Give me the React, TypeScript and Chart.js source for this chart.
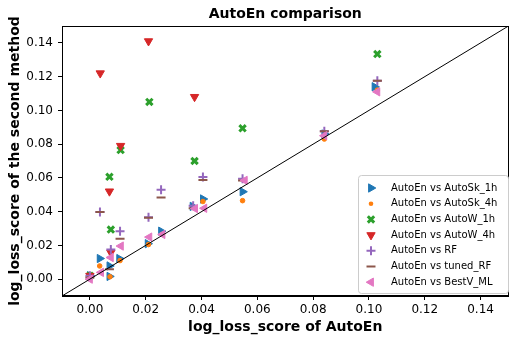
import React, { useEffect, useRef } from "react";
import { Chart, registerables } from "chart.js";

Chart.register(...registerables);

const FONT = "'DejaVu Sans', sans-serif";

const chartTitle = "AutoEn comparison";
const xAxisTitle = "log_loss_score of AutoEn";
const yAxisTitle = "log_loss_score of the second method";

const xTicks = [0.0, 0.02, 0.04, 0.06, 0.08, 0.1, 0.12, 0.14];
const yTicks = [0.0, 0.02, 0.04, 0.06, 0.08, 0.1, 0.12, 0.14];
const axisRange = [-0.01, 0.15];

const seriesLabels = [
  "AutoEn vs AutoSk_1h",
  "AutoEn vs AutoSk_4h",
  "AutoEn vs AutoW_1h",
  "AutoEn vs AutoW_4h",
  "AutoEn vs RF",
  "AutoEn vs tuned_RF",
  "AutoEn vs BestV_ML",
];
const seriesColors = ["#1f77b4", "#ff7f0e", "#2ca02c", "#d62728", "#9467bd", "#8c564b", "#e377c2"];

const autoSk1hX = [0.0, 0.0035, 0.007, 0.007, 0.0105, 0.0207, 0.0255, 0.0368, 0.0405, 0.0547, 0.084, 0.102];
const autoSk1hY = [0.002, 0.0122, 0.0078, 0.0016, 0.0122, 0.021, 0.0284, 0.0431, 0.0475, 0.0518, 0.086, 0.114];

const autoSk4hX = [0.0, 0.0035, 0.0072, 0.0108, 0.021, 0.026, 0.0405, 0.0547, 0.084, 0.103];
const autoSk4hY = [0.001, 0.0078, 0.0014, 0.011, 0.0205, 0.0265, 0.046, 0.0465, 0.083, 0.112];

const autoW1hX = [0.0, 0.007, 0.0075, 0.011, 0.0213, 0.0375, 0.0547, 0.103];
const autoW1hY = [0.002, 0.0606, 0.0294, 0.0765, 0.105, 0.07, 0.0894, 0.1334];

const autoW4hX = [0.0, 0.0037, 0.007, 0.0075, 0.011, 0.021, 0.0375];
const autoW4hY = [0.002, 0.122, 0.052, 0.0157, 0.079, 0.141, 0.108];

const rfX = [0.0, 0.0036, 0.0075, 0.0108, 0.021, 0.0255, 0.037, 0.0405, 0.0547, 0.084, 0.103];
const rfY = [0.002, 0.0398, 0.0176, 0.0284, 0.0367, 0.053, 0.0435, 0.0605, 0.0595, 0.0876, 0.1176];

const tunedRfX = [0.0, 0.0036, 0.007, 0.0108, 0.021, 0.0255, 0.037, 0.0405, 0.0547, 0.084, 0.103];
const tunedRfY = [0.001, 0.0398, 0.0058, 0.024, 0.0363, 0.0484, 0.042, 0.0588, 0.0585, 0.0876, 0.1176];

const bestVX = [0.0, 0.004, 0.0075, 0.0111, 0.0213, 0.026, 0.0377, 0.041, 0.0555, 0.084, 0.103];
const bestVY = [0.0, 0.004, 0.0128, 0.0196, 0.0249, 0.0265, 0.0418, 0.042, 0.0585, 0.085, 0.111];

const seriesX = [autoSk1hX, autoSk4hX, autoW1hX, autoW4hX, rfX, tunedRfX, bestVX];
const seriesY = [autoSk1hY, autoSk4hY, autoW1hY, autoW4hY, rfY, tunedRfY, bestVY];

type Marker = { style: string; rotation: number; radius: number; width: number };
const markers: Marker[] = [
  { style: "triangle", rotation: 90, radius: 4.8, width: 1 },
  { style: "circle", rotation: 0, radius: 2.3, width: 1 },
  { style: "crossRot", rotation: 0, radius: 4.5, width: 3 },
  { style: "triangle", rotation: 180, radius: 4.8, width: 1 },
  { style: "cross", rotation: 0, radius: 4.5, width: 2 },
  { style: "line", rotation: 0, radius: 4.5, width: 2 },
  { style: "triangle", rotation: 270, radius: 4.8, width: 1 },
];

function drawMarker(ctx: CanvasRenderingContext2D, m: Marker, x: number, y: number, color: string) {
  ctx.save();
  ctx.fillStyle = color;
  ctx.strokeStyle = color;
  ctx.lineWidth = m.width;
  const r = m.radius;
  ctx.beginPath();
  if (m.style === "triangle") {
    let rad = (m.rotation * Math.PI) / 180;
    ctx.moveTo(x + Math.sin(rad) * r, y - Math.cos(rad) * r);
    rad += (2 * Math.PI) / 3;
    ctx.lineTo(x + Math.sin(rad) * r, y - Math.cos(rad) * r);
    rad += (2 * Math.PI) / 3;
    ctx.lineTo(x + Math.sin(rad) * r, y - Math.cos(rad) * r);
    ctx.closePath();
    ctx.fill();
    ctx.stroke();
  } else if (m.style === "circle") {
    ctx.arc(x, y, r, 0, Math.PI * 2);
    ctx.fill();
  } else if (m.style === "crossRot") {
    const d = Math.cos(Math.PI / 4) * r;
    ctx.moveTo(x - d, y - d);
    ctx.lineTo(x + d, y + d);
    ctx.moveTo(x - d, y + d);
    ctx.lineTo(x + d, y - d);
    ctx.stroke();
  } else if (m.style === "cross") {
    ctx.moveTo(x - r, y);
    ctx.lineTo(x + r, y);
    ctx.moveTo(x, y - r);
    ctx.lineTo(x, y + r);
    ctx.stroke();
  } else if (m.style === "line") {
    ctx.moveTo(x - r, y);
    ctx.lineTo(x + r, y);
    ctx.stroke();
  }
  ctx.restore();
}

const decorPlugin = {
  id: "decor",
  afterDraw(chart: any) {
    const ctx: CanvasRenderingContext2D = chart.ctx;
    const a = chart.chartArea;
    ctx.save();
    // frame
    ctx.strokeStyle = "#000";
    ctx.lineWidth = 1;
    ctx.strokeRect(Math.round(a.left) + 0.5, Math.round(a.top) + 0.5, Math.round(a.right - a.left) - 1, Math.round(a.bottom - a.top) - 1);
    // title
    ctx.fillStyle = "#000";
    ctx.textAlign = "center";
    ctx.textBaseline = "middle";
    ctx.font = `bold 14px ${FONT}`;
    const cx = (a.left + a.right) / 2;
    ctx.fillText(chartTitle, cx, 14);
    ctx.fillText(xAxisTitle, cx, 327);
    ctx.save();
    ctx.translate(15, (a.top + a.bottom) / 2);
    ctx.rotate(-Math.PI / 2);
    ctx.fillText(yAxisTitle, 0, 0);
    ctx.restore();
    // legend
    const lx = 358, ly = 175, lw = 150, lh = 118;
    ctx.fillStyle = "rgba(255,255,255,0.85)";
    ctx.strokeStyle = "#cccccc";
    ctx.lineWidth = 1;
    ctx.beginPath();
    const rr = 3;
    ctx.moveTo(lx + 0.5 + rr, ly + 0.5);
    ctx.arcTo(lx + 0.5 + lw, ly + 0.5, lx + 0.5 + lw, ly + 0.5 + lh, rr);
    ctx.arcTo(lx + 0.5 + lw, ly + 0.5 + lh, lx + 0.5, ly + 0.5 + lh, rr);
    ctx.arcTo(lx + 0.5, ly + 0.5 + lh, lx + 0.5, ly + 0.5, rr);
    ctx.arcTo(lx + 0.5, ly + 0.5, lx + 0.5 + lw, ly + 0.5, rr);
    ctx.closePath();
    ctx.fill();
    ctx.stroke();
    ctx.font = `10px ${FONT}`;
    ctx.textAlign = "left";
    ctx.textBaseline = "middle";
    for (let i = 0; i < seriesLabels.length; i++) {
      const yy = 188 + i * 15.7;
      drawMarker(ctx, markers[i], 371, yy, seriesColors[i]);
      ctx.fillStyle = "#000";
      ctx.fillText(seriesLabels[i], 391, yy);
    }
    ctx.restore();
  },
};

export default function App() {
  const ref = useRef<HTMLCanvasElement | null>(null);
  useEffect(() => {
    document.body.style.margin = "0";
    const canvas = ref.current;
    if (!canvas) return;
    const datasets: any[] = seriesLabels.map((label, i) => ({
      type: "scatter",
      label,
      data: seriesX[i].map((x, j) => ({ x, y: seriesY[i][j] })),
      pointStyle: markers[i].style,
      rotation: markers[i].rotation,
      radius: markers[i].radius,
      pointRadius: markers[i].radius,
      pointHoverRadius: markers[i].radius,
      borderWidth: markers[i].width,
      backgroundColor: seriesColors[i],
      borderColor: seriesColors[i],
      order: 20 - i,
    }));
    datasets.push({
      type: "line",
      label: "diag",
      data: axisRange.map((v) => ({ x: v, y: v })),
      borderColor: "#000",
      borderWidth: 1,
      pointRadius: 0,
      fill: false,
      order: 0,
    });
    const tickFont = { family: FONT, size: 12 };
    const chart = new Chart(canvas, {
      type: "scatter",
      data: { datasets },
      options: {
        animation: false,
        responsive: false,
        events: [],
        layout: { padding: { top: 26, right: 7, left: 0, bottom: 0 } },
        plugins: { legend: { display: false }, title: { display: false }, tooltip: { enabled: false } },
        scales: {
          x: {
            type: "linear",
            min: axisRange[0],
            max: axisRange[1],
            afterFit: (s: any) => {
              s.height = 45;
            },
            afterBuildTicks: (s: any) => {
              s.ticks = xTicks.map((v) => ({ value: v }));
            },
            ticks: {
              callback: (v: any) => Number(v).toFixed(2),
              font: tickFont,
              color: "#000",
              padding: 3,
              maxRotation: 0,
              autoSkip: false,
            },
            grid: { drawOnChartArea: false, tickLength: 4, color: "#000", tickColor: "#000" },
            border: { display: true, color: "#000", width: 1 },
          },
          y: {
            type: "linear",
            min: axisRange[0],
            max: axisRange[1],
            afterFit: (s: any) => {
              s.width = 62;
            },
            afterBuildTicks: (s: any) => {
              s.ticks = yTicks.map((v) => ({ value: v }));
            },
            ticks: {
              callback: (v: any) => Number(v).toFixed(2),
              font: tickFont,
              color: "#000",
              padding: 5,
              autoSkip: false,
            },
            grid: { drawOnChartArea: false, tickLength: 4, color: "#000", tickColor: "#000" },
            border: { display: true, color: "#000", width: 1 },
          },
        },
      },
      plugins: [decorPlugin],
    } as any);
    return () => chart.destroy();
  }, []);
  return (
    <div style={{ width: 516, height: 341, background: "#fff" }}>
      <canvas ref={ref} width={516} height={341} style={{ display: "block" }} />
    </div>
  );
}
